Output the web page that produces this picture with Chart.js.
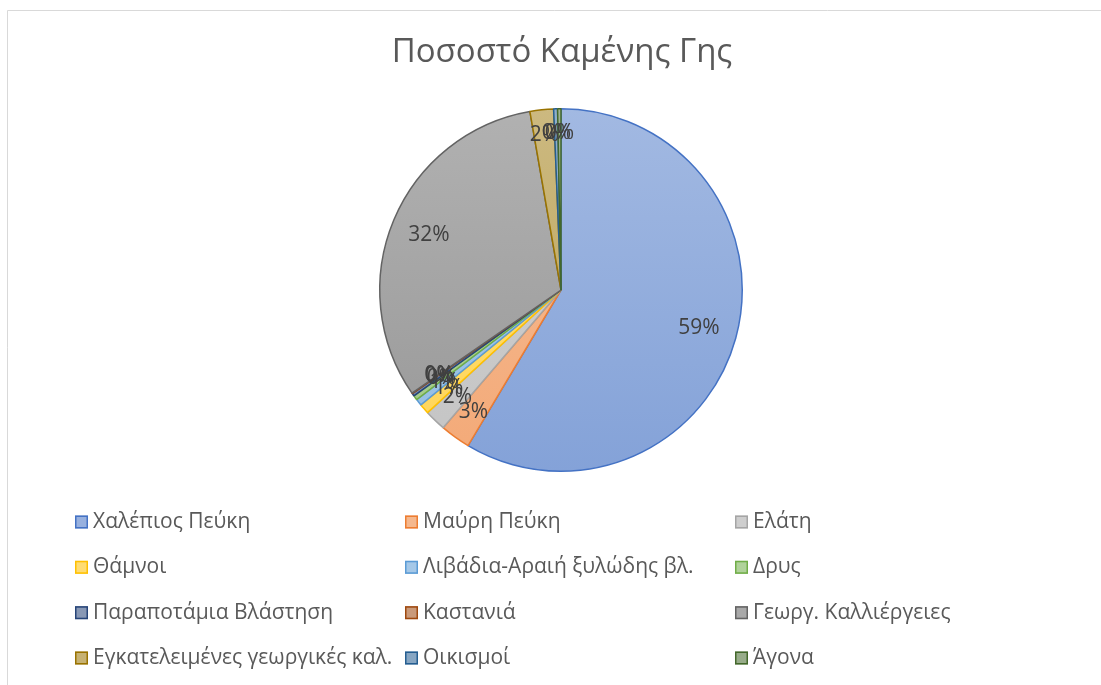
<!DOCTYPE html>
<html>
<head>
<meta charset="utf-8">
<script src="https://cdn.jsdelivr.net/npm/chart.js@4/dist/chart.umd.min.js"></script>
<style>
  html, body { margin: 0; padding: 0; background: #ffffff; }
  #wrap { width: 1101px; height: 685px; position: relative; }
</style>
</head>
<body>
<div id="wrap"><canvas id="c" width="1101" height="685"></canvas></div>
<script>
const title = 'Ποσοστό Καμένης Γης';
const categories = [
  'Χαλέπιος Πεύκη', 'Μαύρη Πεύκη', 'Ελάτη',
  'Θάμνοι', 'Λιβάδια-Αραιή ξυλώδης βλ.', 'Δρυς',
  'Παραποτάμια Βλάστηση', 'Καστανιά', 'Γεωργ. Καλλιέργειες',
  'Εγκατελειμένες γεωργικές καλ.', 'Οικισμοί', 'Άγονα'
];
const percentValues = [58.6, 2.7, 1.9, 0.9, 0.6, 0.4, 0.25, 0.05, 31.9, 2.1, 0.35, 0.3];
const seriesColors = ['#4472C4', '#ED7D31', '#A5A5A5', '#FFC000', '#5B9BD5', '#70AD47',
                      '#264478', '#9E480E', '#636363', '#997300', '#255E91', '#43682B'];

const FONT = '"Open Sans", "Liberation Sans", Arial, sans-serif';

function mix(hex, t) {
  const n = parseInt(hex.slice(1), 16);
  const r = (n >> 16) & 255, g = (n >> 8) & 255, b = n & 255;
  const f = c => Math.round(c + (255 - c) * t);
  return `rgb(${f(r)},${f(g)},${f(b)})`;
}

const extras = {
  id: 'extras',
  beforeDraw(chart) {
    const ctx = chart.ctx;
    ctx.save();
    ctx.fillStyle = '#ffffff';
    ctx.fillRect(0, 0, chart.width, chart.height);
    ctx.strokeStyle = '#D9D9D9';
    ctx.lineWidth = 1;
    ctx.beginPath();
    ctx.moveTo(7.5, chart.height);
    ctx.lineTo(7.5, 10.5);
    ctx.lineTo(chart.width, 10.5);
    ctx.stroke();
    ctx.fillStyle = '#595959';
    ctx.font = '33px ' + FONT;
    ctx.textAlign = 'center';
    ctx.textBaseline = 'middle';
    ctx.fillText(title, 562, 53);
    ctx.restore();
  },
  afterDatasetsDraw(chart) {
    const ctx = chart.ctx;
    const meta = chart.getDatasetMeta(0);
    const ds = chart.data.datasets[0];
    const total = ds.data.reduce((a, b) => a + b, 0);
    ctx.save();
    ctx.font = '21px ' + FONT;
    ctx.fillStyle = '#404040';
    ctx.textAlign = 'center';
    ctx.textBaseline = 'middle';
    meta.data.forEach((arc, i) => {
      const p = arc.getProps(['x', 'y', 'startAngle', 'endAngle', 'outerRadius'], true);
      const mid = (p.startAngle + p.endAngle) / 2;
      const txt = Math.round(ds.data[i] / total * 100) + '%';
      const w = ctx.measureText(txt).width;
      const h = 16;
      const c = Math.cos(mid), s = Math.sin(mid);
      const ext = Math.abs(c) * w / 2 + Math.abs(s) * h / 2;
      const d = p.outerRadius - 16 - ext;
      ctx.fillText(txt, p.x + c * d, p.y + s * d);
    });
    ctx.restore();

    ctx.save();
    ctx.font = '21px ' + FONT;
    ctx.textAlign = 'left';
    ctx.textBaseline = 'middle';
    const colX = [75, 405, 735];
    const rowY = [522, 567.3, 612.7, 658];
    chart.data.labels.forEach((lab, i) => {
      const x = colX[i % 3], y = rowY[Math.floor(i / 3)];
      ctx.fillStyle = mix(seriesColors[i], 0.45);
      ctx.fillRect(x, y - 6.5, 13, 13);
      ctx.strokeStyle = seriesColors[i];
      ctx.lineWidth = 1.5;
      ctx.strokeRect(x + 0.75, y - 5.75, 11.5, 11.5);
      ctx.fillStyle = '#595959';
      ctx.fillText(lab, x + 18, y);
    });
    ctx.restore();
  }
};

function gradFill(context) {
  const chart = context.chart;
  const area = chart.chartArea;
  const i = context.dataIndex;
  if (!area || i === undefined) return mix(seriesColors[i || 0], 0.42);
  const cy = (area.top + area.bottom) / 2;
  const r = Math.min(area.width, area.height) / 2;
  const g = chart.ctx.createLinearGradient(0, cy - r, 0, cy + r);
  g.addColorStop(0, mix(seriesColors[i], 0.5));
  g.addColorStop(1, mix(seriesColors[i], 0.34));
  return g;
}

new Chart(document.getElementById('c'), {
  type: 'pie',
  data: {
    labels: categories,
    datasets: [{
      data: percentValues,
      backgroundColor: gradFill,
      borderColor: seriesColors,
      borderWidth: 1.5
    }]
  },
  options: {
    responsive: false,
    animation: false,
    events: [],
    layout: { padding: { top: 108, bottom: 213, left: 21, right: 0 } },
    plugins: {
      legend: { display: false },
      title: { display: false },
      tooltip: { enabled: false }
    }
  },
  plugins: [extras]
});
</script>
</body>
</html>
